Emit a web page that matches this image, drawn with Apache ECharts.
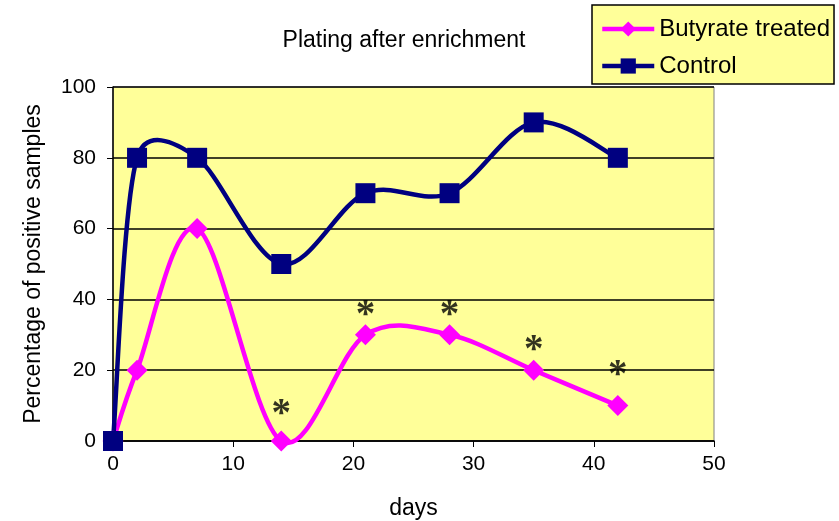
<!DOCTYPE html>
<html><head><meta charset="utf-8">
<script src="https://cdn.jsdelivr.net/npm/echarts@6/dist/echarts.min.js"></script>
<style>html,body{margin:0;padding:0;background:#fff}#c{width:839px;height:521px}</style>
</head><body><div id="c"></div>
<script>
const days = [0, 2, 7, 14, 21, 28, 35, 42];
const butyrate = [0, 20, 60, 0, 30, 30, 20, 10];
const control = [0, 80, 80, 50, 70, 70, 90, 80];
const starDays = [14, 21, 28, 35, 42];
const starValues = [10, 38, 38, 28, 21];
const xTicks = [0, 10, 20, 30, 40, 50];
const yTicks = [0, 20, 40, 60, 80, 100];

const font = 'Arial, "Liberation Sans", sans-serif';
const PINK = '#FF00FF', NAVY = '#000080';

// Excel-like smoothed line drawn through the chart's own coordinate system
function smoothRenderer(xs, ys, color) {
  return function (params, api) {
    if (params.dataIndex !== 0) return null;
    const pts = xs.map((x, i) => api.coord([x, ys[i]]));
    const n = pts.length, children = [];
    const clampV = (v, lim) => {
      const l = Math.hypot(v[0], v[1]);
      return l > lim && l > 0 ? [v[0] * lim / l, v[1] * lim / l] : v;
    };
    for (let i = 0; i < n - 1; i++) {
      const p0 = pts[Math.max(i - 1, 0)], p1 = pts[i], p2 = pts[i + 1], p3 = pts[Math.min(i + 2, n - 1)];
      const d12 = Math.hypot(p2[0] - p1[0], p2[1] - p1[1]);
      const v1 = clampV([(p2[0] - p0[0]) / 6, (p2[1] - p0[1]) / 6], d12 / 2);
      const v2 = clampV([(p3[0] - p1[0]) / 6, (p3[1] - p1[1]) / 6], d12 / 2);
      children.push({
        type: 'bezierCurve',
        shape: {x1: p1[0], y1: p1[1], x2: p2[0], y2: p2[1],
          cpx1: p1[0] + v1[0], cpy1: p1[1] + v1[1], cpx2: p2[0] - v2[0], cpy2: p2[1] - v2[1]},
        style: {stroke: color, lineWidth: 4.5, fill: 'none', lineCap: 'round', lineJoin: 'round'}
      });
    }
    return {type: 'group', children: children};
  };
}

const chart = echarts.init(document.getElementById('c'), null, {renderer: 'canvas'});
chart.setOption({
  animation: false,
  backgroundColor: '#fff',
  title: {text: 'Plating after enrichment', left: 399, top: 24, textAlign: 'center',
    textStyle: {fontFamily: font, fontSize: 23, fontWeight: 'normal', color: '#000'}},
  legend: {
    orient: 'vertical', left: 592, top: 5, width: 243,
    padding: [12, 4, 6, 8], itemGap: 13,
    backgroundColor: '#FFFF99', borderColor: '#000', borderWidth: 1.5,
    itemWidth: 52, itemHeight: 19,
    textStyle: {fontFamily: font, fontSize: 24, color: '#000'},
    data: [
      {name: 'Butyrate treated', lineStyle: {color: PINK, width: 4.5, opacity: 1}},
      {name: 'Control', lineStyle: {color: NAVY, width: 4.5, opacity: 1}}
    ]
  },
  grid: {left: 113, right: 125, top: 87, bottom: 80, show: true, containLabel: false,
    outerBoundsMode: 'none',
    backgroundColor: '#FFFF99', borderColor: '#808080', borderWidth: 1},
  xAxis: {type: 'value', min: xTicks[0], max: xTicks[xTicks.length-1], interval: 10,
    name: 'days', nameLocation: 'middle', nameGap: 56,
    nameTextStyle: {fontFamily: font, fontSize: 23, color: '#000'},
    axisLine: {lineStyle: {color: '#000', width: 1.5}},
    axisTick: {show: true, inside: false, length: 6, lineStyle: {color: '#000'}},
    axisLabel: {fontFamily: font, fontSize: 21, color: '#000', margin: 13},
    splitLine: {show: false}},
  yAxis: {type: 'value', min: yTicks[0], max: yTicks[yTicks.length-1], interval: 20,
    name: 'Percentage of positive samples', nameLocation: 'middle', nameGap: 68, nameRotate: 90,
    nameTextStyle: {fontFamily: font, fontSize: 23, color: '#000'},
    axisLine: {show: true, lineStyle: {color: '#000', width: 1.5}},
    axisTick: {show: true, inside: false, length: 6, lineStyle: {color: '#000'}},
    axisLabel: {fontFamily: font, fontSize: 21, color: '#000', margin: 17},
    splitLine: {show: true, lineStyle: {color: '#000', width: 1.5}}},
  series: [
    {name: 'butyrate-curve', type: 'custom', clip: false, z: 2, silent: true,
     data: days.map((d, i) => [d, butyrate[i]]),
     renderItem: smoothRenderer(days, butyrate, PINK)},
    {name: 'control-curve', type: 'custom', clip: false, z: 2, silent: true,
     data: days.map((d, i) => [d, control[i]]),
     renderItem: smoothRenderer(days, control, NAVY)},
    {name: 'Butyrate treated', type: 'line', clip: false, z: 3,
     data: days.map((d, i) => [d, butyrate[i]]),
     symbol: 'diamond', symbolSize: 21,
     lineStyle: {color: PINK, width: 0, opacity: 0}, itemStyle: {color: PINK}},
    {name: 'Control', type: 'line', clip: false, z: 4,
     data: days.map((d, i) => [d, control[i]]),
     symbol: 'rect', symbolSize: 20,
     lineStyle: {color: NAVY, width: 0, opacity: 0}, itemStyle: {color: NAVY}},
    {name: 'stars', type: 'scatter', z: 5, silent: true,
     data: starDays.map((d, i) => [d, starValues[i]]),
     symbol: 'circle', symbolSize: 2, itemStyle: {color: 'rgba(0,0,0,0)'},
     label: {show: true, position: 'inside', formatter: '*', fontFamily: '"Liberation Serif", "Times New Roman", serif',
       fontWeight: 'bold', fontSize: 39, color: '#000', offset: [0, 9]}}
  ]
});
</script></body></html>
